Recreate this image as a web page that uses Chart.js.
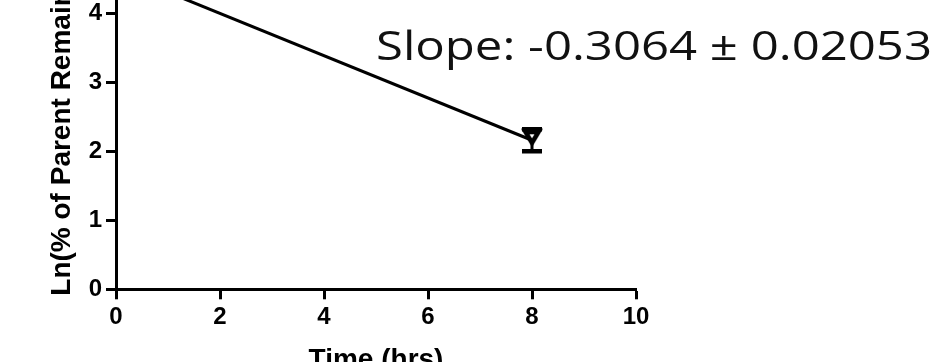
<!DOCTYPE html>
<html>
<head>
<meta charset="utf-8">
<script src="https://cdn.jsdelivr.net/npm/chart.js@4.4.1/dist/chart.umd.min.js"></script>
<style>
  html, body { margin: 0; padding: 0; background: #fff; overflow: hidden; width: 941px; height: 362px; }
  #wrap { position: absolute; left: 0; top: -80px; width: 941px; height: 460px; }
</style>
</head>
<body>
<div id="wrap"><canvas id="decay" width="941" height="460"></canvas></div>
<script>
// Parent compound remaining, ln(%), vs time
const timeHrs = [8];
const lnMean = [2.16];
const lnErr = [0.16];

// linear fit ends
const fitTime = [0, 8];
const fitLn = [4.61, 2.16];

const xTicks = [0, 2, 4, 6, 8, 10];
const yTicks = [0, 1, 2, 3, 4, 5];

const slopeLabel = 'Slope: -0.3064 \u00b1 0.02053';
const slopeLabelAt = { x: 5.0, y: 3.33 };

const AXIS_FONT = '"Liberation Sans", Arial, sans-serif';

// down-pointing triangle symbol
function makeTriangle() {
    const c = document.createElement('canvas');
    c.width = 26; c.height = 26;
    const g = c.getContext('2d');
    g.fillStyle = '#000';
    g.beginPath();
    g.moveTo(2, 1.5);
    g.lineTo(24, 1.5);
    g.lineTo(13, 20);
    g.closePath();
    g.fill();
    g.fillStyle = '#fff';
    g.beginPath();
    g.moveTo(10.5, 7);
    g.lineTo(15.5, 7);
    g.lineTo(13, 11);
    g.closePath();
    g.fill();
    return c;
}

const errorBars = {
    id: 'errorBars',
    beforeDatasetsDraw(chart) {
        const { ctx, scales: { x, y } } = chart;
        ctx.save();
        ctx.strokeStyle = '#000';
        timeHrs.forEach((t, i) => {
            const px = x.getPixelForValue(t);
            const top = y.getPixelForValue(lnMean[i] + lnErr[i]);
            const bot = y.getPixelForValue(lnMean[i] - lnErr[i]);
            ctx.lineWidth = 3;
            ctx.beginPath();
            ctx.moveTo(px, top); ctx.lineTo(px, bot);
            ctx.stroke();
            ctx.lineWidth = 4.5;
            ctx.beginPath();
            ctx.moveTo(px - 10, top); ctx.lineTo(px + 10, top);
            ctx.moveTo(px - 10, bot); ctx.lineTo(px + 10, bot);
            ctx.stroke();
        });
        ctx.restore();
    }
};

const slopeText = {
    id: 'slopeText',
    afterDraw(chart) {
        const { ctx, scales: { x, y } } = chart;
        const px = x.getPixelForValue(slopeLabelAt.x);
        const py = y.getPixelForValue(slopeLabelAt.y);
        ctx.save();
        ctx.font = '40px "Open Sans", Lato, sans-serif';
        ctx.fillStyle = '#111';
        ctx.textBaseline = 'alphabetic';
        const w = ctx.measureText(slopeLabel).width;
        ctx.translate(px, py);
        ctx.scale(556 / w, 1);
        ctx.fillText(slopeLabel, 0, 0);
        ctx.restore();
    }
};

const axisCommon = {
    border: { color: '#000', width: 3 },
    grid: { drawOnChartArea: false, drawTicks: true, tickLength: 10, tickWidth: 3, tickColor: '#000' }
};

new Chart(document.getElementById('decay'), {
    type: 'scatter',
    data: {
        datasets: [
            {
                type: 'line',
                data: fitTime.map((t, i) => ({ x: t, y: fitLn[i] })),
                borderColor: '#000',
                borderWidth: 3,
                pointRadius: 0,
                fill: false
            },
            {
                data: timeHrs.map((t, i) => ({ x: t, y: lnMean[i] })),
                pointStyle: makeTriangle(),
                pointRadius: 13,
                showLine: false
            }
        ]
    },
    options: {
        responsive: false,
        animation: false,
        layout: { padding: { top: 24.3, right: 305, bottom: 0, left: 0 } },
        plugins: { legend: { display: false }, tooltip: { enabled: false } },
        scales: {
            x: {
                ...axisCommon,
                type: 'linear',
                min: 0, max: 10,
                afterBuildTicks: s => { s.ticks = xTicks.map(v => ({ value: v })); },
                afterFit: s => { s.height = 90.7; },
                ticks: { color: '#000', padding: 4, font: { family: AXIS_FONT, size: 24, weight: 'bold' } },
                title: {
                    display: true, text: 'Time (hrs)', color: '#000',
                    padding: { top: 0, bottom: 3 },
                    font: { family: AXIS_FONT, size: 28, weight: 'bold' }
                }
            },
            y: {
                ...axisCommon,
                min: 0, max: 5,
                afterBuildTicks: s => { s.ticks = yTicks.map(v => ({ value: v })); },
                afterFit: s => { s.width = 116; },
                ticks: { color: '#000', padding: 4, font: { family: AXIS_FONT, size: 24, weight: 'bold' } },
                title: {
                    display: true, text: 'Ln(% of Parent Remaining)', color: '#000',
                    padding: { top: 45, bottom: 0 },
                    font: { family: AXIS_FONT, size: 28, weight: 'bold' }
                }
            }
        }
    },
    plugins: [errorBars, slopeText]
});
</script>
</body>
</html>
